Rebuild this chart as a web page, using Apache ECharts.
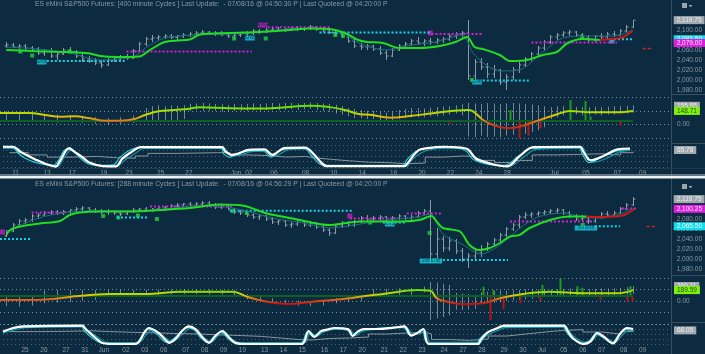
<!DOCTYPE html>
<html><head><meta charset="utf-8">
<script src="https://cdn.jsdelivr.net/npm/echarts/dist/echarts.min.js"></script>
<style>html,body{margin:0;padding:0;background:#0c2b40;overflow:hidden}#c{width:705px;height:354px;}</style>
</head><body><div id="c"></div><script>
// ---------------- DATA (bar index on x, values on y) ----------------
const topTitle = 'ES eMini S&P500 Futures: [400 minute Cycles ] Last Update:  - 07/08/16 @ 04:50:30 P | Last Quoteed @ 04:20:00 P';
const botTitle = 'ES eMini S&P500 Futures: [288 minute Cycles ] Last Update:  - 07/08/16 @ 04:56:29 P | Last Quoteed @ 04:20:00 P';

// OHLC bars [open, high, low, close]
const topBars = [
[2068,2076,2064,2070],[2070,2074,2064,2066],[2066,2072,2062,2068],[2068,2072,2060,2064],[2064,2068,2058,2062],
[2062,2066,2050,2054],[2054,2062,2048,2058],[2058,2064,2044,2048],[2048,2056,2040,2052],[2052,2064,2050,2060],
[2060,2066,2052,2056],[2056,2060,2044,2048],[2048,2052,2036,2042],[2042,2048,2034,2038],[2038,2044,2030,2034],
[2034,2040,2024,2030],[2030,2044,2028,2040],[2040,2046,2036,2042],[2042,2050,2038,2046],[2046,2052,2040,2044],
[2044,2062,2042,2058],[2058,2076,2056,2072],[2072,2086,2068,2082],[2082,2090,2076,2084],[2084,2090,2080,2086],
[2086,2092,2082,2088],[2088,2092,2082,2085],[2085,2090,2080,2088],[2088,2094,2084,2090],[2090,2096,2086,2092],
[2092,2098,2088,2094],[2094,2100,2090,2096],[2096,2098,2090,2093],[2093,2098,2088,2094],[2094,2098,2088,2090],
[2090,2094,2084,2088],[2088,2094,2082,2090],[2090,2096,2086,2092],[2092,2098,2086,2094],[2094,2102,2090,2098],
[2098,2102,2092,2096],[2096,2104,2094,2100],[2100,2106,2096,2102],[2102,2106,2098,2100],[2100,2104,2096,2102],
[2102,2106,2098,2104],[2104,2108,2098,2101],[2101,2106,2098,2103],[2103,2110,2100,2106],[2106,2108,2098,2102],
[2102,2106,2096,2100],[2100,2104,2092,2095],[2095,2100,2088,2092],[2092,2096,2084,2086],[2086,2090,2074,2078],
[2078,2082,2064,2068],[2068,2074,2060,2066],[2066,2072,2060,2068],[2068,2070,2058,2062],[2062,2068,2050,2054],
[2054,2060,2040,2048],[2048,2064,2046,2060],[2060,2072,2058,2068],[2068,2076,2064,2072],[2072,2082,2068,2078],
[2078,2086,2070,2074],[2074,2082,2068,2078],[2078,2084,2070,2076],[2076,2084,2072,2080],[2080,2086,2074,2082],
[2082,2092,2078,2088],[2088,2096,2082,2092],[2092,2098,2086,2094],[2094,2120,2000,2008],[2008,2042,1998,2036],
[2036,2044,2020,2026],[2026,2034,2004,2012],[2012,2030,2004,2020],[2020,2022,1990,1996],[1996,2012,1980,2006],
[2006,2026,2000,2020],[2020,2036,2014,2030],[2030,2046,2026,2042],[2042,2056,2038,2052],[2052,2068,2048,2064],
[2064,2080,2060,2076],[2076,2090,2072,2086],[2086,2094,2080,2090],[2090,2098,2086,2094],[2094,2100,2088,2096],
[2096,2098,2086,2090],[2090,2094,2080,2084],[2084,2090,2076,2080],[2080,2090,2076,2088],[2088,2094,2082,2086],
[2086,2096,2082,2092],[2092,2098,2086,2090],[2090,2102,2088,2098],[2098,2110,2094,2106],[2106,2120,2104,2119.75]];

const botBars = [
[2046,2058,2044,2056],[2056,2072,2054,2068],[2068,2080,2066,2076],[2076,2082,2070,2078],[2078,2090,2074,2086],
[2086,2092,2080,2088],[2088,2096,2086,2092],[2092,2098,2088,2094],[2094,2098,2088,2092],[2092,2098,2088,2095],
[2095,2100,2090,2098],[2098,2104,2094,2100],[2100,2106,2096,2102],[2102,2104,2094,2098],[2098,2102,2092,2096],
[2096,2100,2090,2094],[2094,2100,2088,2096],[2096,2098,2088,2092],[2092,2096,2086,2090],[2090,2098,2088,2096],
[2096,2102,2092,2098],[2098,2102,2094,2100],[2100,2104,2094,2097],[2097,2102,2094,2100],[2100,2106,2096,2102],
[2102,2106,2096,2100],[2100,2110,2098,2106],[2106,2112,2102,2108],[2108,2112,2104,2110],[2110,2114,2104,2108],
[2108,2114,2104,2110],[2110,2116,2106,2112],[2112,2116,2104,2108],[2108,2112,2100,2104],[2104,2110,2100,2106],
[2106,2108,2098,2100],[2100,2102,2090,2094],[2094,2098,2088,2092],[2092,2096,2084,2088],[2088,2092,2080,2084],
[2084,2090,2078,2086],[2086,2088,2076,2080],[2080,2084,2070,2074],[2074,2080,2068,2076],[2076,2078,2064,2068],
[2068,2074,2062,2070],[2070,2078,2066,2074],[2074,2078,2064,2068],[2068,2076,2064,2072],[2072,2074,2060,2064],
[2064,2068,2054,2058],[2058,2062,2046,2052],[2052,2070,2050,2066],[2066,2076,2062,2072],[2072,2076,2064,2068],
[2068,2078,2064,2074],[2074,2086,2072,2082],[2082,2088,2076,2080],[2080,2086,2074,2082],[2082,2088,2078,2084],
[2084,2086,2076,2080],[2080,2086,2076,2082],[2082,2090,2078,2086],[2086,2088,2078,2082],[2082,2088,2078,2084],
[2084,2096,2082,2092],[2092,2100,2088,2096],[2096,2118,1992,2010],[2010,2062,2000,2040],[2040,2046,2014,2022],
[2022,2044,2016,2036],[2036,2040,2010,2016],[2016,2022,1994,2000],[2000,2012,1982,2006],[2006,2020,1998,2012],
[2012,2028,2004,2020],[2020,2034,2016,2030],[2030,2042,2024,2038],[2038,2052,2034,2048],[2048,2064,2044,2060],
[2060,2072,2056,2068],[2068,2088,2062,2084],[2084,2094,2080,2088],[2088,2094,2082,2090],[2090,2096,2084,2092],
[2092,2098,2088,2094],[2094,2100,2090,2096],[2096,2102,2090,2098],[2098,2100,2088,2092],[2092,2096,2082,2086],
[2086,2090,2076,2080],[2080,2088,2074,2082],[2082,2086,2070,2076],[2076,2086,2072,2084],[2084,2094,2080,2090],
[2090,2096,2084,2088],[2088,2096,2084,2092],[2092,2104,2090,2100],[2100,2112,2098,2108],[2108,2124,2106,2119.75]];

// moving averages [barIndex, price]
const topGreen = [[0,2060],[4,2058],[9.6,2056],[13.2,2053],[14.8,2048],[17.5,2046],[21,2047],[22.7,2060],[24.8,2075],[27,2079],[29,2081],[30.6,2091],[35.3,2094],[40,2096],[43.7,2099],[48,2103],[51,2102],[53.5,2094],[55.6,2080],[57,2076],[59.5,2074],[62.2,2064],[65.3,2064],[68.5,2068],[71,2076],[72.8,2086],[74,2066],[75.3,2062],[78,2050],[79.6,2038],[82.3,2040],[84.8,2050],[87,2056],[88.6,2073],[91,2082],[93.8,2080]];
const topRedMA = [[93.8,2080],[96.5,2083],[97.5,2086],[98.5,2094],[99,2098]];
const topTeal = [[0,2066],[5,2062],[10,2054],[15,2040],[20,2046],[22,2064],[25,2084],[30,2090],[35,2092],[40,2096],[45,2102],[50,2103],[53,2095],[56,2072],[60,2060],[64,2070],[68,2076],[72,2090],[74,2050],[78,2018],[81,2020],[85,2058],[88,2084],[92,2088],[96,2088],[99,2100]];
const botGreen = [[0,2048],[0.6,2058],[2.2,2065],[5.3,2071],[8.5,2076],[10,2088],[11.6,2093],[14.8,2095],[19.5,2095],[24.3,2098],[29,2102],[33.8,2109],[37.7,2106],[40.9,2092],[46.4,2078],[51,2068],[55.9,2075],[62.2,2075],[65.3,2078],[67.2,2086],[68,2075],[69,2062],[71.7,2055],[73.2,2028],[74.8,2018],[76.4,2022],[78,2032],[79.6,2045],[81.1,2048],[82.7,2062],[85.9,2078],[89,2085],[91.7,2085]];
const botRedMA = [[91.7,2085],[93,2084],[95.4,2085],[97,2086],[98,2090],[99.3,2101]];
const botTeal = [[0,2055],[3,2072],[6,2085],[10,2094],[15,2097],[20,2096],[25,2100],[30,2106],[34,2105],[38,2096],[42,2082],[47,2072],[51,2062],[55,2068],[60,2078],[65,2084],[67,2090],[69,2050],[72,2030],[75,2010],[78,2028],[81,2060],[84,2084],[88,2092],[91,2084],[94,2082],[97,2090],[99,2102]];

// dotted levels [fromIndex, toIndex, price]
const topMagenta = [[19,38.8,2057],[41.3,51.1,2105.5],[67.2,75.1,2092],[83,96.5,2075]];
const topCyan = [[6.4,18.7,2038],[49.5,67.2,2095],[75.3,82.7,1999],[95.4,99,2081.5]];
const topRedDash = [[100.6,102.2,2063]];
const botMagenta = [[4,9.6,2093],[22.7,35.8,2105],[54.3,61.7,2081],[63.3,69,2091],[79.6,92.7,2075],[97.3,99.8,2101]];
const botCyan = [[-1,4,2040],[17.5,22.4,2083],[35.3,54.8,2096.7],[59.5,63.3,2073],[69,79.3,1998],[93,97,2065.5]];
const botRedDash = [[101.2,102.5,2065]];

// signal markers
const topSquares = [[2.2,2057],[4.1,2049],[10,2057],[36,2083],[41,2083],[52,2090],[53.2,2089],[73.6,2000],[91,2086]];
const botSquares = [[15.3,2086],[17.7,2083],[20.8,2087],[23.8,2080],[35.8,2096],[38,2092],[57.5,2073],[66.9,2052],[67.7,1998],[91.1,2068]];
const topTags = [[5.6,2036,'ENB','#19d3e6'],[38.5,2084,'ENB','#19d3e6'],[40.5,2110,'ENG','#c21fc2'],[67,2094,'','#c21fc2'],[74.4,1996,'ENB','#19d3e6'],[95.7,2078,'','#19d3e6']];
const botTags = [[-0.6,2054,'','#c21fc2'],[54.3,2086,'','#c21fc2'],[60.6,2070,'ENB','#19d3e6'],[67.1,1996,'2nd ENB','#19d3e6'],[91.6,2062,'3rd ENB','#19d3e6']];

// oscillator line [index, value]
const topOsc = [[-1,126],[3.7,126],[6.1,104],[8.5,86],[10.8,90],[13.2,68],[15.6,42],[18,42],[20.3,61],[21.9,104],[24.3,148],[28.2,166],[30.6,188],[35.3,177],[40.1,175],[43.2,184],[48,206],[51.1,190],[53.5,159],[55.9,112],[57.5,106],[60.6,75],[63.8,93],[67.4,123],[72.8,159],[73.6,150],[75.3,50],[76.9,-4],[79.1,-40],[81.1,-23],[83.8,39],[87,112],[89,148],[92.2,134],[96.5,134],[99,148.71]];
const botOsc = [[-1,17],[3.7,17],[13.2,104],[16.4,122],[22.7,122],[27.4,162],[35.8,162],[38,75],[41.2,-12],[44.8,-52],[48.4,-12],[51.6,17],[54.3,47],[55.9,75],[59.5,122],[64.9,191],[67,179],[68,47],[70.1,-23],[72.1,-57],[75.3,-40],[78,47],[81.6,122],[85.9,162],[91.1,134],[96.5,134],[99,189.59]];
const topOscBase = 38, botOscBase = 85;
// histogram strokes [index, low, high]
const topHist = [[0,40,150],[2,50,140],[4,30,120],[6,40,110],[8,20,110],[10,30,100],[12,20,90],[14,10,80],[16,0,70],[18,10,80],[20,20,100],[22,30,180],
[23,30,200],[24,30,210],[25,40,200],[26,30,210],[27,40,205],[28,60,210],[29,150,225],[30,160,230],[31,150,235],[32,150,230],[33,150,225],[34,140,220],[35,140,215],[36,150,225],[37,150,220],[38,150,225],[39,155,230],[40,150,225],[41,160,230],[42,160,235],[43,155,230],[44,160,235],[45,165,235],[46,160,230],[47,165,235],[48,170,240],[49,160,235],[50,150,230],[51,140,225],[52,120,215],[53,110,200],
[54,90,180],[55,70,170],[56,70,160],[57,60,150],[58,60,150],[59,40,140],[60,30,130],[61,40,140],[62,60,160],[63,70,170],[64,80,180],[65,80,180],[66,80,175],[67,90,185],[68,90,190],[69,100,195],[70,110,200],[71,120,210],[72,100,220],
[73,-130,235],[74,-135,230],[75,-120,225],[76,-135,235],[77,-130,230],[78,-135,225],[79,-120,230],[80,-110,235],[81,-120,230],[82,-100,225],[83,-80,220],[84,-60,210],[85,-30,200],
[86,60,190],[87,80,200],[88,100,200],[89,110,200],[90,110,195],[91,100,190],[92,100,190],[93,110,195],[94,100,190],[95,110,195],[96,110,200],[97,120,200],[98,120,205],[99,130,210]];
const topHistUp = [[74,38,60],[79.5,38,159],[89,38,267],[91.4,38,256],[92.2,38,90]];
const topHistDn = [[70,38,10],[81,38,-149],[82.4,38,-120],[84.3,38,-40],[97,38,-10]];
const botHist = [[0,-90,70],[2,-99,75],[4,-80,80],[6,-40,180],[8,-30,190],[10,-20,190],[12,0,190],[14,20,190],
[16,100,190],[18,100,195],[20,105,190],[22,110,195],[24,110,200],[26,115,200],[28,120,205],[30,120,200],[32,115,200],[34,110,195],[36,100,190],
[38,30,120],[40,0,80],[42,-30,50],[44,-60,20],[46,-80,10],[48,-90,0],[50,-80,10],[52,-40,50],[54,-20,70],[56,0,90],
[58,70,200],[60,80,210],[62,90,220],[64,90,225],[66,150,250],[67,-330,330],[68,-300,320],[69,-280,300],[70,-250,280],
[71,-150,140],[72,-160,130],[73,-150,120],[74,-140,110],[75,-40,150],[76,-40,160],[77,-30,170],[78,-20,180],[79,0,180],[80,10,190],[81,20,190],[82,30,200],[83,40,200],[84,60,200],[85,70,205],[86,80,200],[87,90,205],
[88,90,210],[89,90,215],[90,80,205],[91,85,210],[92,80,205],[93,85,210],[94,90,215],[95,95,215],[96,100,220],[97,105,225],[98,110,240],[99,120,260]];
const botHistUp = [[75.3,85,249],[76.9,85,190],[84.6,85,278],[87.5,85,395],[90.2,85,260],[91,85,230],[98.5,85,260]];
const botHistDn = [[76.4,85,-330],[78.5,85,-140],[81.1,85,-40],[84.3,85,0],[93.8,85,20],[98,85,-10],[98.8,85,-10]];

// cycle lines [index, value 0..100]
const topWhite = [[-1,92],[0.6,92],[1.7,70],[2.7,55],[4.3,32],[5.8,14],[7.4,2],[8,25],[9.5,86],[10.3,70],[11.6,45],[12.7,20],[14.8,4],[16.9,3],[18,40],[19.5,70],[20.8,90],[33.8,90],[34.3,70],[35.3,55],[36.4,62],[38,78],[40.5,80],[41.7,55],[43.7,86],[46.9,88],[48.4,55],[49.5,20],[50.3,4],[62.7,4],[63,10],[64.9,75],[66.4,86],[69,92],[71.7,88],[72.8,80],[74,40],[76.4,15],[79,3],[81,50],[83.2,90],[90.6,92],[91.1,70],[92.2,30],[94.3,50],[96.5,80],[98.5,84]];
const topCyanA = [[-1,88],[0.6,86],[1.5,60],[2.5,40],[4,22],[5.5,12],[7,8],[7.8,30],[9,80],[10,75],[11.3,40],[12.5,15],[14,8],[16.5,10],[17.6,45],[19,75],[20.5,88],[33.6,86],[34,60],[35,45],[36,58],[37.8,72],[40.2,75],[41.5,45],[43.3,80],[46.7,84],[48,50],[49.2,15],[50,8],[62.5,8],[63,30],[64.5,70],[66,84],[69,88],[71.5,84],[72.6,70],[73.6,35],[76,12],[78.6,8],[80.6,45],[82.8,84],[90.4,88],[90.9,60],[92,20],[94,45],[96.2,72],[98.5,80]];
const topCyanB = [[-1,84],[1,88],[2.2,65],[3.2,45],[4.8,25],[6.3,10],[7.8,5],[8.5,35],[10,80],[10.8,60],[12,35],[13.2,15],[15.3,5],[17.3,8],[18.5,35],[20,62],[21.3,84],[34.2,84],[34.8,62],[35.8,50],[36.8,55],[38.4,70],[41,72],[42.2,50],[44.2,78],[47.2,82],[48.8,45],[50,12],[51,5],[63.2,5],[63.6,25],[65.4,65],[67,80],[69.5,86],[72.2,82],[73.3,62],[74.5,30],[77,10],[79.5,6],[81.5,42],[83.6,80],[91,86],[91.6,55],[92.8,22],[94.8,40],[97,70],[98.5,76]];
const topGreyStep = [[0,65],[3,55],[6,45],[10,48],[14,42],[17,40],[20,50],[22,62],[27,65],[33,66],[35,55],[38,52],[41,45],[44,48],[47,40],[49,35],[51,28],[54,22],[57,20],[60,15],[63,18],[66,45],[69,50],[72,48],[74,30],[77,20],[80,30],[83,55],[87,58],[91,60],[94,55],[97,65],[99,70]];
const botWhite = [[-1,62],[0.6,80],[2.2,88],[11.6,92],[12.1,75],[13.7,30],[14.8,5],[16.4,0],[20,0],[21.6,65],[22.1,80],[23.7,55],[24.8,20],[25.4,6],[26.4,27],[27.4,65],[28.5,88],[29.6,73],[30.6,35],[31.7,6],[32.7,40],[33.8,65],[34.8,35],[35.8,6],[36.9,0],[46.4,0],[47.5,65],[48.4,35],[49.5,65],[50.6,73],[51.6,80],[53.8,73],[54.5,40],[55.3,62],[56.3,75],[58.2,75],[61.9,85],[62.7,88],[63.8,42],[64.9,58],[65.7,75],[66.6,0],[74.4,0],[74.8,20],[75.9,58],[77.5,80],[78.5,92],[88,92],[88.6,65],[89.5,27],[91.1,0],[92.2,12],[93.3,55],[94.4,35],[95.8,3],[96.9,50],[98,80],[99,75]];
const botCyanA = [[-1,58],[0.4,75],[2,84],[11.4,88],[11.9,65],[13.4,25],[14.5,6],[16.2,4],[20,4],[21.3,55],[21.8,75],[23.4,50],[24.5,15],[25.2,8],[26.2,30],[27.2,60],[28.3,82],[29.4,68],[30.4,30],[31.5,8],[32.5,38],[33.6,60],[34.6,30],[35.6,8],[36.7,4],[46.2,4],[47.3,58],[48.2,38],[49.3,60],[51.4,76],[53.6,70],[54.4,40],[55.1,58],[56.1,70],[62.5,84],[63.6,45],[64.7,55],[65.5,70],[66.4,5],[74.2,5],[74.6,25],[75.7,55],[77.3,76],[78.3,86],[87.8,88],[88.4,60],[89.3,28],[90.9,5],[92,15],[93.1,50],[94.2,32],[95.6,6],[96.7,45],[97.8,72],[99,70]];
const botCyanB = [[-1,55],[1,72],[2.6,82],[11.8,86],[12.4,70],[14,35],[15.2,10],[16.8,6],[20.4,6],[22,58],[22.5,72],[24,48],[25.2,22],[25.8,10],[26.8,30],[27.8,58],[28.8,80],[30,62],[31,28],[32.1,10],[33.1,40],[34.2,58],[35.1,28],[36.2,10],[37.3,6],[46.8,6],[47.8,55],[48.8,40],[49.8,58],[51.8,74],[54.1,68],[55,42],[55.6,56],[56.6,68],[63,82],[64.1,48],[65.2,52],[66,66],[66.9,8],[74.8,8],[75.2,28],[76.3,52],[77.8,72],[78.8,82],[88.3,84],[89,58],[89.9,30],[91.4,8],[92.5,18],[93.6,48],[94.7,30],[96.1,8],[97.2,42],[98.3,68],[99,66]];
const botGreyStep = [[0,62],[5,64],[10,66],[13,62],[16,58],[20,55],[24,52],[27,50],[30,45],[34,42],[37,38],[40,30],[43,22],[46,20],[48,28],[51,30],[54,35],[57,50],[60,55],[63,58],[66,50],[67,22],[70,18],[73,25],[76,40],[79,50],[82,60],[85,68],[88,72],[91,60],[94,50],[97,62],[99,70]];

// time axis tick labels [barIndex, text]
const topTimeLabels = [[1,'11'],[6,'13'],[10,'17'],[15,'19'],[19,'23'],[24,'25'],[28.5,'27'],[36,'Jun'],[38,'02'],[42,'06'],[47,'08'],[51.5,'10'],[56,'14'],[61,'16'],[65.5,'20'],[70,'22'],[74.5,'24'],[79,'28'],[86.5,'Jul'],[91.5,'05'],[96.5,'07'],[100.5,'09']];
const botTimeLabels = [[2.5,'25'],[5.5,'26'],[9,'27'],[12,'31'],[15,'Jun'],[18.5,'02'],[21.5,'03'],[24.5,'06'],[28,'07'],[31,'08'],[34,'09'],[37,'10'],[40.5,'13'],[43.5,'14'],[46.5,'15'],[50,'16'],[53,'17'],[56,'20'],[59.5,'21'],[62.5,'22'],[65.5,'23'],[69,'24'],[72,'27'],[75,'28'],[78.5,'29'],[81.5,'30'],[84.5,'Jul'],[88,'05'],[91,'06'],[94,'07'],[97.5,'08'],[100.5,'09']];

// right-hand value tags [value, text, kind, nudge]
const topPriceTags = [[2119.75,'2,119.75','grey',0],[2081.5,'2,081.50','cyan',0],[2079,'2,079.00','magenta',2.5]];
const topOscTags = [[155.55,'155.55','grey',-4.5],[148.71,'148.71','green',0]];
const topCycTag = [[65.78,'65.78','grey',-2.5]];
const botPriceTags = [[2119.75,'2,119.75','grey',0],[2100.25,'2,100.25','magenta',0],[2065.5,'2,065.50','cyan',0]];
const botOscTags = [[260.11,'260.11','grey',0],[189.59,'189.59','green',0]];
const botCycTag = [[68.05,'68.05','grey',0]];

// ---------------- STYLE ----------------
const BG = '#0c2b40', AX = '#8b98a2', FONT = 'Liberation Sans, Arial, sans-serif';
const TAGSTY = {grey:['#a3aaaf','#e9edef'], cyan:['#14dcec','#e6ffff'], magenta:['#dc1fdc','#ffe6ff'], green:['#7ef20c','#244a00']};
const fmtPrice = v => v.toLocaleString('en-US',{minimumFractionDigits:2,maximumFractionDigits:2});

function ohlcRender(params, api){
  const x=api.value(0), o=api.value(1), h=api.value(2), l=api.value(3), c=api.value(4);
  const ph=api.coord([x,h]), pl=api.coord([x,l]), po=api.coord([x,o]), pc=api.coord([x,c]);
  const st={stroke:'#8e9aa3', lineWidth:1};
  const X=Math.round(ph[0])+0.5;
  return {type:'group', children:[
    {type:'line', shape:{x1:X,y1:ph[1],x2:X,y2:pl[1]}, style:st},
    {type:'line', shape:{x1:X-2,y1:po[1],x2:X,y2:po[1]}, style:st},
    {type:'line', shape:{x1:X,y1:pc[1],x2:X+2,y2:pc[1]}, style:st}]};
}
function rangeRender(color, width){
  return function(params, api){
    const x=api.value(0), a=api.coord([x,api.value(1)]), b=api.coord([x,api.value(2)]);
    const X=Math.round(a[0])+0.5;
    return {type:'line', shape:{x1:X,y1:a[1],x2:X,y2:b[1]}, style:{stroke:color, lineWidth:width}};
  };
}
function segData(segs){ const d=[]; segs.forEach(s=>{d.push([s[0],s[2]],[s[1],s[2]],[s[1],null]);}); return d; }
function tagLines(tags){
  return {silent:true, symbol:['none','none'], animation:false,
    lineStyle:{color:'rgba(0,0,0,0)', width:0},
    data: tags.map(t=>({yAxis:t[0], label:{show:true, position:'end', distance:3, formatter:t[1],
      backgroundColor:TAGSTY[t[2]][0], color:TAGSTY[t[2]][1], fontSize:6.5, fontFamily:FONT,
      padding:[1,3,0,3], offset:[0,t[3]]}}))};
}

const grids=[], xAxes=[], yAxes=[], series=[], visualMaps=[];
function addPanel(off, P){
  const g0 = grids.length;
  grids.push({left:0,right:34,top:10+off,height:90},{left:0,right:34,top:P.oscTop,height:P.oscH},{left:0,right:34,top:145+off,height:22});
  const lmap = {}; P.time.forEach(t=>{lmap[String(t[0])]=t[1];});
  for(let k=0;k<3;k++){
    const lab = (k===2);
    xAxes.push({gridIndex:g0+k, type:'value', min:-1, max:105, interval:0.5, show:lab,
      axisLine:{show:false}, axisTick:{show:false}, splitLine:{show:false},
      axisLabel:{show:lab, formatter:v=>lmap[String(Math.round(v*2)/2)]||'', color:AX, fontSize:6.5, fontFamily:FONT, margin:3}});
  }
  yAxes.push({gridIndex:g0, type:'value', position:'right', min:1960, max:2140, interval:20,
    axisLine:{show:false}, axisTick:{show:false}, splitLine:{show:false},
    axisLabel:{color:AX, fontSize:6.5, fontFamily:FONT, margin:6, showMinLabel:false, showMaxLabel:false, formatter:fmtPrice}});
  yAxes.push({gridIndex:g0+1, type:'value', position:'right', min:P.oscMin, max:P.oscMax, interval:P.oscInt,
    axisLine:{show:false}, axisTick:{show:false},
    splitLine:{show:true, lineStyle:{color:'rgba(215,222,226,0.55)', type:[1,3], width:1}},
    axisLabel:{color:AX, fontSize:6.5, fontFamily:FONT, margin:6, showMinLabel:false, showMaxLabel:false, formatter:v=>v===0?'0.00':''}});
  yAxes.push({gridIndex:g0+2, type:'value', position:'right', min:0, max:100, interval:25,
    axisLine:{show:false}, axisTick:{show:false},
    splitLine:{show:true, lineStyle:{color:'rgba(150,165,175,0.45)', type:[1,3], width:1}},
    axisLabel:{show:false}});
  const A = k => ({xAxisIndex:g0+k, yAxisIndex:g0+k});
  const line = (k, data, color, width, extra) => Object.assign({type:'line', ...A(k), data, showSymbol:false, symbol:'none', silent:true,
    lineStyle:{color, width}, itemStyle:{color}}, extra||{});
  // price panel
  series.push(line(0, segData(P.magenta), '#d51fd5', 2, {lineStyle:{color:'#d51fd5', width:2, type:[2,2]}}));
  series.push(line(0, segData(P.cyan), '#16d2e6', 2, {lineStyle:{color:'#16d2e6', width:2, type:[2,2]}}));
  series.push(line(0, segData(P.redDash), '#d42020', 1.5, {lineStyle:{color:'#d42020', width:1.5, type:[3,2]}}));
  series.push({type:'custom', ...A(0), renderItem:ohlcRender, silent:true, encode:{x:0,y:[1,2,3,4]},
    data:P.bars.map((b,i)=>[i,b[0],b[1],b[2],b[3]])});
  series.push(line(0, P.teal, '#1c6e7c', 1, {smooth:0.3, markLine:tagLines(P.priceTags)}));
  series.push(line(0, P.green, '#22dd22', 2, {smooth:0.3}));
  series.push(line(0, P.redMA, '#d01818', 2, {smooth:0.3}));
  series.push({type:'scatter', ...A(0), data:P.squares, symbol:'rect', symbolSize:4, itemStyle:{color:'#1fd23a'}, silent:true});
  series.push({type:'scatter', ...A(0), data:P.tags.map(t=>({value:[t[0],t[1]], name:t[2], itemStyle:{color:t[3]}, symbolSize:[t[2]?Math.max(9,t[2].length*3.2):5,5]})),
    symbol:'rect', silent:true, label:{show:true, position:'inside', formatter:p=>p.name, fontSize:4.5, color:'#0b2b40', fontFamily:FONT}});
  // oscillator panel
  series.push({type:'custom', ...A(1), renderItem:rangeRender('rgba(200,208,212,0.55)',1), silent:true, encode:{x:0,y:[1,2]}, data:P.hist});
  series.push(line(1, [[-1,P.base],[99,P.base]], '#0e5f22', 2));
  series.push({type:'custom', ...A(1), renderItem:rangeRender('#1f9a1c',2), silent:true, encode:{x:0,y:[1,2]}, data:P.histUp});
  series.push({type:'custom', ...A(1), renderItem:rangeRender('#b51616',2), silent:true, encode:{x:0,y:[1,2]}, data:P.histDn});
  const oscIdx = series.length;
  series.push({type:'line', ...A(1), data:P.osc, showSymbol:false, symbol:'none', silent:true, smooth:0.4,
    lineStyle:{width:2}, markLine:tagLines(P.oscTags)});
  visualMaps.push({type:'continuous', show:false, seriesIndex:oscIdx, dimension:1, min:-60, max:200,
    inRange:{color:['#c01010','#d83c10','#e27a1c','#d9c800','#a6e000','#5ee000']}});
  // cycles panel
  series.push(line(2, P.greyStep, '#8a969e', 1, {step:'end'}));
  series.push(line(2, P.cyanB, '#1a93a6', 1.2, {smooth:0.35}));
  series.push(line(2, P.cyanA, '#2fc9da', 1.2, {smooth:0.35}));
  series.push(line(2, P.white, '#ffffff', 2.2, {smooth:0.35, markLine:tagLines(P.cycTag)}));
}

addPanel(0, {bars:topBars, green:topGreen, redMA:topRedMA, teal:topTeal, magenta:topMagenta, cyan:topCyan, redDash:topRedDash,
  squares:topSquares, tags:topTags, priceTags:topPriceTags, oscTags:topOscTags, cycTag:topCycTag,
  oscTop:97, oscH:41.4, oscMin:-150, oscMax:300, oscInt:150, osc:topOsc, base:topOscBase, hist:topHist, histUp:topHistUp, histDn:topHistDn,
  white:topWhite, cyanA:topCyanA, cyanB:topCyanB, greyStep:topGreyStep, time:topTimeLabels});
addPanel(179, {bars:botBars, green:botGreen, redMA:botRedMA, teal:botTeal, magenta:botMagenta, cyan:botCyan, redDash:botRedDash,
  squares:botSquares, tags:botTags, priceTags:botPriceTags, oscTags:botOscTags, cycTag:botCycTag,
  oscTop:278, oscH:46, oscMin:-400, oscMax:400, oscInt:200, osc:botOsc, base:botOscBase, hist:botHist, histUp:botHistUp, histDn:botHistDn,
  white:botWhite, cyanA:botCyanA, cyanB:botCyanB, greyStep:botGreyStep, time:botTimeLabels});

const sep = '#3b4d59';
const chart = echarts.init(document.getElementById('c'), null, {renderer:'canvas'});
chart.setOption({
  backgroundColor: BG, animation:false,
  textStyle:{fontFamily:FONT},
  title:[
    {text:topTitle, left:35, top:1, padding:0, textStyle:{color:AX, fontSize:6.8, fontWeight:'normal', fontFamily:FONT}},
    {text:botTitle, left:35, top:181, padding:0, textStyle:{color:AX, fontSize:6.8, fontWeight:'normal', fontFamily:FONT}}],
  grid:grids, xAxis:xAxes, yAxis:yAxes, series, visualMap:visualMaps,
  graphic:[
    {type:'line', shape:{x1:671.5,y1:0,x2:671.5,y2:354}, style:{stroke:sep, lineWidth:1}, silent:true},
    {type:'line', shape:{x1:671,y1:94.5,x2:705,y2:94.5}, style:{stroke:sep, lineWidth:1}, silent:true},
    {type:'line', shape:{x1:671,y1:143.5,x2:705,y2:143.5}, style:{stroke:sep, lineWidth:1}, silent:true},
    {type:'line', shape:{x1:0,y1:168.5,x2:705,y2:168.5}, style:{stroke:'#1e3a4c', lineWidth:1}, silent:true},
    {type:'line', shape:{x1:671,y1:275.5,x2:705,y2:275.5}, style:{stroke:sep, lineWidth:1}, silent:true},
    {type:'line', shape:{x1:671,y1:322.5,x2:705,y2:322.5}, style:{stroke:sep, lineWidth:1}, silent:true},
    {type:'rect', shape:{x:0,y:174.5,width:705,height:1}, style:{fill:'#b9c3c9'}, silent:true},
    {type:'rect', shape:{x:0,y:176,width:705,height:2.5}, style:{fill:'#eef2f4'}, silent:true},
    {type:'rect', shape:{x:682,y:3,width:5,height:5}, style:{fill:'#9aa4aa'}, silent:true},
    {type:'rect', shape:{x:689,y:5,width:3,height:1.5}, style:{fill:'#9aa4aa'}, silent:true},
    {type:'rect', shape:{x:682,y:184,width:5,height:5}, style:{fill:'#9aa4aa'}, silent:true},
    {type:'rect', shape:{x:689,y:186,width:3,height:1.5}, style:{fill:'#9aa4aa'}, silent:true}
  ]
});
</script></body></html>
